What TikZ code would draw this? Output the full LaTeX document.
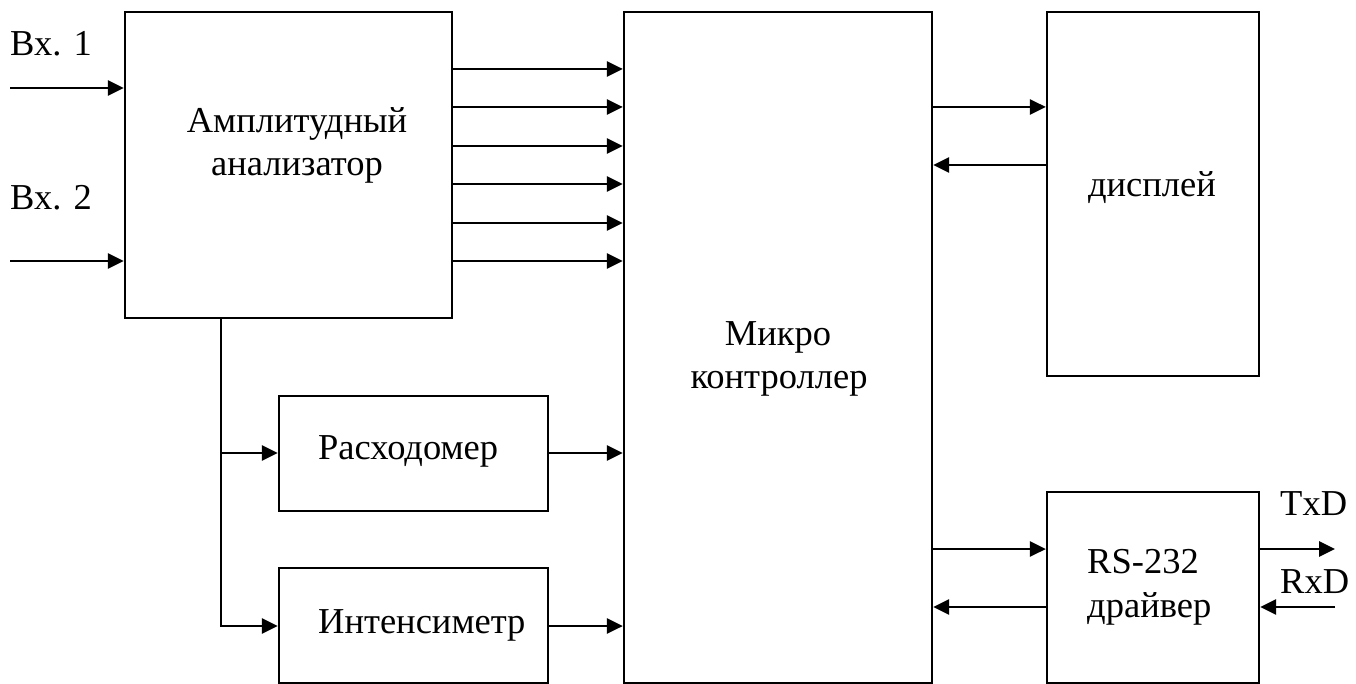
\documentclass[tikz,border=0pt]{standalone}
\usepackage{fontspec}
\setmainfont{Liberation Serif}
\usetikzlibrary{arrows.meta}
\begin{document}
\begin{tikzpicture}[x=1pt,y=-1pt,
  blk/.style={draw,line width=2.2pt,rectangle,inner sep=0pt},
  txt/.style={inner sep=0pt,anchor=base,font=\fontsize{36.5}{43}\selectfont},
  arr/.style={line width=2.8pt,-{Triangle[length=16pt,width=15pt]}},
  ln/.style={line width=2.8pt}]
\useasboundingbox (0,0) rectangle (1356,684);
% blocks
\node[blk,minimum width=327pt,minimum height=306pt] (amp) at (288.5,165) {};
\node[blk,minimum width=308pt,minimum height=671pt] (mc) at (778,347.5) {};
\node[blk,minimum width=212pt,minimum height=364pt] (disp) at (1153,194) {};
\node[blk,minimum width=269pt,minimum height=115pt] (rash) at (413.5,453.5) {};
\node[blk,minimum width=269pt,minimum height=115pt] (int) at (413.5,625.5) {};
\node[blk,minimum width=212pt,minimum height=191pt] (rs) at (1153,587.5) {};
% texts
\node[txt,anchor=base west] (t1) at (10,56) {Вх. 1};
\node[txt,anchor=base west] (t2) at (10,210) {Вх. 2};
\node[txt] (ta1) at (297,133) {Амплитудный};
\node[txt] (ta2) at (297,176) {анализатор};
\node[txt] (tm1) at (778,345) {Микро};
\node[txt] (tm2) at (779,388) {контроллер};
\node[txt] (td) at (1152,197) {дисплей};
\node[txt,anchor=base west] (tr) at (318,459) {Расходомер};
\node[txt,anchor=base west] (ti) at (318,633) {Интенсиметр};
\node[txt,anchor=base west] (trs1) at (1087,573) {RS-232};
\node[txt,anchor=base west] (trs2) at (1087,617) {драйвер};
\node[txt,anchor=base west] (ttx) at (1280,515) {TxD};
\node[txt,anchor=base west] (trx) at (1280,593) {RxD};
% coordinates
\coordinate (in1) at (10,88);
\coordinate (in2) at (10,261);
\coordinate (tx) at (1335,549);
\coordinate (rx) at (1335,607);
\coordinate (bt) at (221,318);
\coordinate (b1) at (221,453);
\coordinate (b2) at (221,626);
% inputs
\draw[arr] (in1) -- (amp.west |- in1);
\draw[arr] (in2) -- (amp.west |- in2);
% amp to mc
\foreach \yy in {69,107,146,184,223,261}
  \draw[arr] (amp.east |- 0,\yy) -- (mc.west |- 0,\yy);
% branch
\draw[ln,line cap=rect] (bt) -- (b2);
\draw[arr] (b1) -- (rash.west |- b1);
\draw[arr] (b2) -- (int.west |- b2);
\draw[arr] (rash.east |- b1) -- (mc.west |- b1);
\draw[arr] (int.east |- b2) -- (mc.west |- b2);
% display
\draw[arr] (mc.east |- 0,107) -- (disp.west |- 0,107);
\draw[arr] (disp.west |- 0,165) -- (mc.east |- 0,165);
% rs232
\draw[arr] (mc.east |- tx) -- (rs.west |- tx);
\draw[arr] (rs.west |- rx) -- (mc.east |- rx);
\draw[arr] (rs.east |- tx) -- (tx);
\draw[arr] (rx) -- (rs.east |- rx);
\end{tikzpicture}
\end{document}
